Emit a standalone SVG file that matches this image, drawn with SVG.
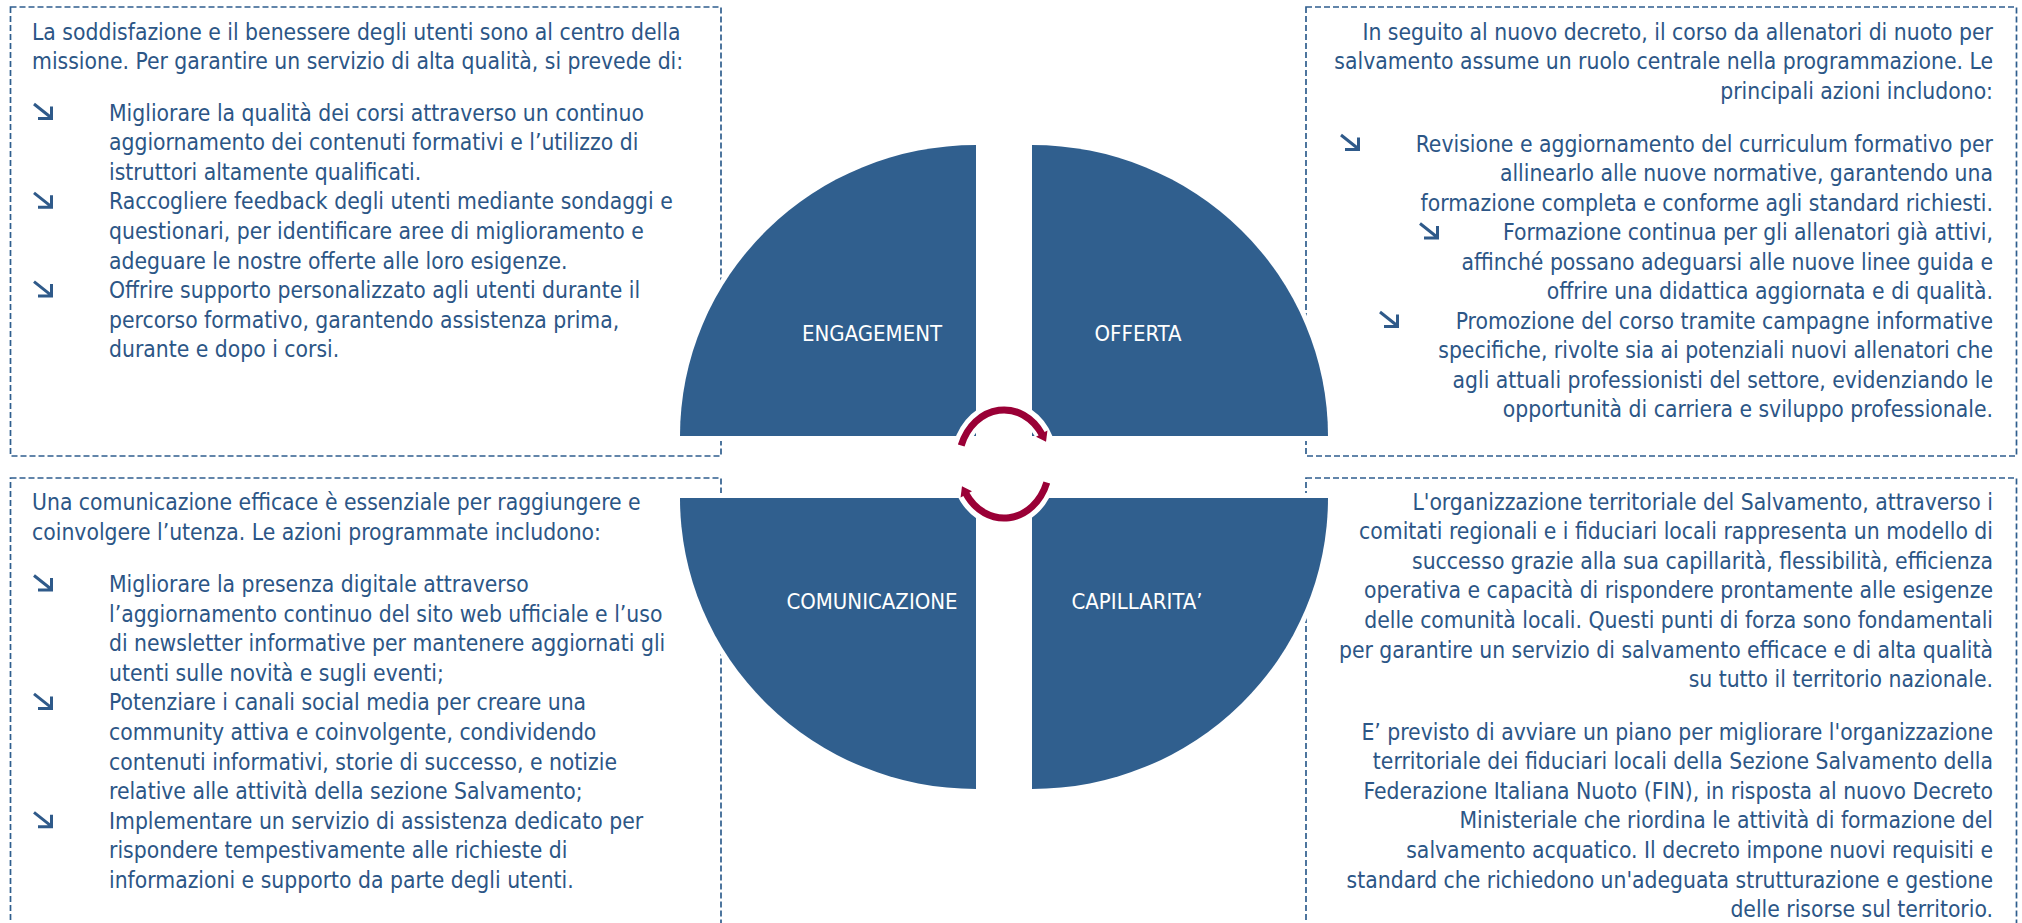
<svg xmlns="http://www.w3.org/2000/svg" xmlns:xlink="http://www.w3.org/1999/xlink" width="2022" height="923" viewBox="0 0 2022 923">
<style>
.box{fill:none;stroke:#2F5E8E;stroke-width:1.7;stroke-dasharray:6 3}
.t{font-family:'DejaVu Sans Condensed','DejaVu Sans',sans-serif;font-stretch:condensed;font-size:22.7px;fill:#2C5686}
.r{text-anchor:end}
.q{fill:#305F8E;stroke:#fff;stroke-width:10;paint-order:stroke}
.lbl{font-family:'DejaVu Sans Condensed','DejaVu Sans',sans-serif;font-stretch:condensed;font-size:22px;fill:#fff;text-anchor:middle}
.halo{fill:none;stroke:#fff;stroke-width:16;stroke-linecap:round}
.arc{fill:none;stroke:#9A0036;stroke-width:7}
</style>
<defs>
<g id="bul"><path d="M1,1 L18,14.5 M18.5,3.5 L18.5,15.5 L5,15.5" fill="none" stroke="#2F5A8A" stroke-width="3"/></g>
<marker id="ah" markerUnits="userSpaceOnUse" markerWidth="14" markerHeight="16" viewBox="0 -8 10 16" refX="1" refY="0" orient="auto"><path d="M0,-6.5 L9,0 L0,6.5 Z" fill="#9A0036"/></marker>
</defs>

<g id="box-engagement">
<rect class="box" x="10.5" y="7" width="710.5" height="449"/>
<text class="t" x="32" y="39.5">La soddisfazione e il benessere degli utenti sono al centro della</text>
<text class="t" x="32" y="69">missione. Per garantire un servizio di alta qualità, si prevede di:</text>
<use xlink:href="#bul" x="33" y="103"/>
<use xlink:href="#bul" x="33" y="191.8"/>
<use xlink:href="#bul" x="33" y="280.6"/>
<text class="t" x="109" y="120.5">Migliorare la qualità dei corsi attraverso un continuo</text>
<text class="t" x="109" y="150.1">aggiornamento dei contenuti formativi e l’utilizzo di</text>
<text class="t" x="109" y="179.7">istruttori altamente qualificati.</text>
<text class="t" x="109" y="209.3">Raccogliere feedback degli utenti mediante sondaggi e</text>
<text class="t" x="109" y="238.9">questionari, per identificare aree di miglioramento e</text>
<text class="t" x="109" y="268.5">adeguare le nostre offerte alle loro esigenze.</text>
<text class="t" x="109" y="298.1">Offrire supporto personalizzato agli utenti durante il</text>
<text class="t" x="109" y="327.7">percorso formativo, garantendo assistenza prima,</text>
<text class="t" x="109" y="357.3">durante e dopo i corsi.</text>
</g>

<g id="box-offerta">
<rect class="box" x="1306" y="7" width="710.5" height="449"/>
<text class="t r" x="1993" y="39.5">In seguito al nuovo decreto, il corso da allenatori di nuoto per</text>
<text class="t r" x="1993" y="69">salvamento assume un ruolo centrale nella programmazione. Le</text>
<text class="t r" x="1993" y="98.5">principali azioni includono:</text>
<use xlink:href="#bul" x="1340" y="134"/>
<use xlink:href="#bul" x="1419" y="222.5"/>
<use xlink:href="#bul" x="1379" y="311"/>
<text class="t r" x="1993" y="151.5">Revisione e aggiornamento del curriculum formativo per</text>
<text class="t r" x="1993" y="181">allinearlo alle nuove normative, garantendo una</text>
<text class="t r" x="1993" y="210.5">formazione completa e conforme agli standard richiesti.</text>
<text class="t r" x="1993" y="240">Formazione continua per gli allenatori già attivi,</text>
<text class="t r" x="1993" y="269.5">affinché possano adeguarsi alle nuove linee guida e</text>
<text class="t r" x="1993" y="299">offrire una didattica aggiornata e di qualità.</text>
<text class="t r" x="1993" y="328.5">Promozione del corso tramite campagne informative</text>
<text class="t r" x="1993" y="358">specifiche, rivolte sia ai potenziali nuovi allenatori che</text>
<text class="t r" x="1993" y="387.5">agli attuali professionisti del settore, evidenziando le</text>
<text class="t r" x="1993" y="417">opportunità di carriera e sviluppo professionale.</text>
</g>

<g id="box-comunicazione">
<rect class="box" x="10.5" y="478" width="710.5" height="460"/>
<text class="t" x="32" y="510">Una comunicazione efficace è essenziale per raggiungere e</text>
<text class="t" x="32" y="539.5">coinvolgere l’utenza. Le azioni programmate includono:</text>
<use xlink:href="#bul" x="33" y="574.5"/>
<use xlink:href="#bul" x="33" y="692.9"/>
<use xlink:href="#bul" x="33" y="811.3"/>
<text class="t" x="109" y="592">Migliorare la presenza digitale attraverso</text>
<text class="t" x="109" y="621.6">l’aggiornamento continuo del sito web ufficiale e l’uso</text>
<text class="t" x="109" y="651.2">di newsletter informative per mantenere aggiornati gli</text>
<text class="t" x="109" y="680.8">utenti sulle novità e sugli eventi;</text>
<text class="t" x="109" y="710.4">Potenziare i canali social media per creare una</text>
<text class="t" x="109" y="740">community attiva e coinvolgente, condividendo</text>
<text class="t" x="109" y="769.6">contenuti informativi, storie di successo, e notizie</text>
<text class="t" x="109" y="799.2">relative alle attività della sezione Salvamento;</text>
<text class="t" x="109" y="828.8">Implementare un servizio di assistenza dedicato per</text>
<text class="t" x="109" y="858.4">rispondere tempestivamente alle richieste di</text>
<text class="t" x="109" y="888">informazioni e supporto da parte degli utenti.</text>
</g>

<g id="box-capillarita">
<rect class="box" x="1306" y="478" width="710.5" height="460"/>
<text class="t r" x="1993" y="509.5">L'organizzazione territoriale del Salvamento, attraverso i</text>
<text class="t r" x="1993" y="539.1">comitati regionali e i fiduciari locali rappresenta un modello di</text>
<text class="t r" x="1993" y="568.7">successo grazie alla sua capillarità, flessibilità, efficienza</text>
<text class="t r" x="1993" y="598.3">operativa e capacità di rispondere prontamente alle esigenze</text>
<text class="t r" x="1993" y="627.9">delle comunità locali. Questi punti di forza sono fondamentali</text>
<text class="t r" x="1993" y="657.5">per garantire un servizio di salvamento efficace e di alta qualità</text>
<text class="t r" x="1993" y="687.1">su tutto il territorio nazionale.</text>
<text class="t r" x="1993" y="739.5">E’ previsto di avviare un piano per migliorare l'organizzazione</text>
<text class="t r" x="1993" y="769.1">territoriale dei fiduciari locali della Sezione Salvamento della</text>
<text class="t r" x="1993" y="798.7">Federazione Italiana Nuoto (FIN), in risposta al nuovo Decreto</text>
<text class="t r" x="1993" y="828.3">Ministeriale che riordina le attività di formazione del</text>
<text class="t r" x="1993" y="857.9">salvamento acquatico. Il decreto impone nuovi requisiti e</text>
<text class="t r" x="1993" y="887.5">standard che richiedono un'adeguata strutturazione e gestione</text>
<text class="t r" x="1993" y="917.1">delle risorse sul territorio.</text>
</g>

<g id="node-engagement">
<path class="q" d="M976,436 L680,436 A296,291 0 0 1 976,145 Z"/>
<text class="lbl" x="872" y="341">ENGAGEMENT</text>
</g>
<g id="node-offerta">
<path class="q" d="M1032,436 L1032,145 A296,291 0 0 1 1328,436 Z"/>
<text class="lbl" x="1138" y="341">OFFERTA</text>
</g>
<g id="node-comunicazione">
<path class="q" d="M976,498 L976,789 A296,291 0 0 1 680,498 Z"/>
<text class="lbl" x="872" y="609">COMUNICAZIONE</text>
</g>
<g id="node-capillarita">
<path class="q" d="M1032,498 L1328,498 A296,291 0 0 1 1032,789 Z"/>
<text class="lbl" x="1137" y="609">CAPILLARITA’</text>
</g>

<g id="connectors">
<path class="halo" d="M961.2,445.5 A45.5,54 0 0 1 1045,439"/>
<path class="halo" d="M1046.8,482.5 A45.5,54 0 0 1 963,489"/>
<path class="arc" d="M961.2,445.5 A45.5,54 0 0 1 1042.2,434.6" marker-end="url(#ah)"/>
<path class="arc" d="M1046.8,482.5 A45.5,54 0 0 1 965.8,493.4" marker-end="url(#ah)"/>
</g>
</svg>
